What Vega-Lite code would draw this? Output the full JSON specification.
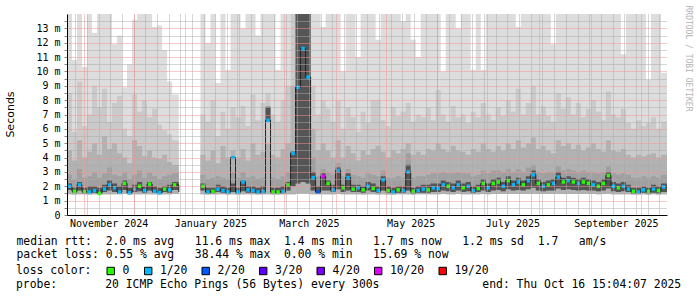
{
  "$schema": "https://vega.github.io/schema/vega-lite/v6.json",
  "width": 600,
  "height": 201,
  "autosize": {"type": "none"},
  "padding": {"left": 67, "top": 14, "right": 30, "bottom": 82},
  "background": "#ffffff",
  "config": {"view": {"stroke": null}, "font": "DejaVu Sans Mono"},
  "title": {"text": "probe:\u00a0\u00a0\u00a0\u00a0\u00a0\u00a0\u00a020 ICMP Echo Pings (56 Bytes) every 300s\u00a0\u00a0\u00a0\u00a0\u00a0\u00a0\u00a0\u00a0\u00a0\u00a0\u00a0\u00a0\u00a0\u00a0\u00a0end: Thu Oct 16 15:04:07 2025",
    "orient": "bottom", "anchor": "start", "frame": "group", "font": "DejaVu Sans Mono", "fontSize": 11.4, "fontWeight": "normal", "color": "#000000", "offset": 1.5, "dx": -51, "baseline": "top"},
  "data": {"values": [
    {"d":"2024-10-22","lo":1.45,"u1":14,"u2":8.5,"u3":4.5,"ld":1.75,"u4":2.8,"u5":2.2,"m":2.0,"l":"1/20"},
    {"d":"2024-10-25","lo":1.42,"u1":10.8,"u2":5.8,"u3":3.8,"ld":1.55,"u4":2.5,"u5":1.9,"m":1.65,"l":"0"},
    {"d":"2024-10-28","lo":1.45,"u1":14,"u2":9.3,"u3":5.2,"ld":1.7,"u4":3.2,"u5":2.3,"m":2.1,"l":"1/20"},
    {"d":"2024-10-31","lo":1.45,"u1":10.3,"u2":6.2,"u3":4.0,"ld":1.5,"u4":2.6,"u5":1.9,"m":1.63,"l":"0"},
    {"d":"2024-11-03","lo":1.43,"u1":14,"u2":7.0,"u3":4.4,"ld":1.5,"u4":2.7,"u5":2.0,"m":1.6,"l":"1/20"},
    {"d":"2024-11-06","lo":1.45,"u1":12.7,"u2":9.0,"u3":5.0,"ld":1.55,"u4":3.0,"u5":2.0,"m":1.7,"l":"1/20"},
    {"d":"2024-11-09","lo":1.42,"u1":14,"u2":7.5,"u3":4.2,"ld":1.5,"u4":2.6,"u5":1.9,"m":1.5,"l":"0"},
    {"d":"2024-11-12","lo":1.45,"u1":14,"u2":8.8,"u3":5.5,"ld":1.6,"u4":2.9,"u5":2.1,"m":1.8,"l":"1/20"},
    {"d":"2024-11-15","lo":1.45,"u1":14,"u2":6.5,"u3":4.6,"ld":1.7,"u4":3.3,"u5":2.4,"m":2.1,"l":"1/20"},
    {"d":"2024-11-18","lo":1.44,"u1":11.9,"u2":7.8,"u3":5.0,"ld":1.6,"u4":2.8,"u5":2.2,"m":1.9,"l":"1/20"},
    {"d":"2024-11-21","lo":1.45,"u1":12.5,"u2":8.3,"u3":4.3,"ld":1.5,"u4":2.7,"u5":2.0,"m":1.6,"l":"1/20"},
    {"d":"2024-11-24","lo":1.46,"u1":8.9,"u2":6.0,"u3":4.0,"ld":1.75,"u4":3.0,"u5":2.4,"m":2.2,"l":"0"},
    {"d":"2024-11-27","lo":1.43,"u1":10.5,"u2":5.5,"u3":3.6,"ld":1.5,"u4":2.5,"u5":1.9,"m":1.55,"l":"1/20"},
    {"d":"2024-11-30","lo":1.45,"u1":13.6,"u2":8.4,"u3":5.2,"ld":1.6,"u4":2.8,"u5":2.1,"m":1.8,"l":"1/20"},
    {"d":"2024-12-03","lo":1.45,"u1":14,"u2":7.2,"u3":4.8,"ld":1.65,"u4":3.1,"u5":2.3,"m":2.0,"l":"0"},
    {"d":"2024-12-06","lo":1.44,"u1":14,"u2":8.0,"u3":4.1,"ld":1.55,"u4":2.6,"u5":2.0,"m":1.7,"l":"1/20"},
    {"d":"2024-12-09","lo":1.45,"u1":14,"u2":6.8,"u3":4.5,"ld":1.7,"u4":3.0,"u5":2.3,"m":2.15,"l":"0"},
    {"d":"2024-12-12","lo":1.45,"u1":13.1,"u2":7.4,"u3":4.0,"ld":1.55,"u4":2.7,"u5":2.0,"m":1.65,"l":"1/20"},
    {"d":"2024-12-15","lo":1.43,"u1":13.2,"u2":6.3,"u3":3.9,"ld":1.5,"u4":2.5,"u5":1.9,"m":1.55,"l":"1/20"},
    {"d":"2024-12-18","lo":1.45,"u1":11.5,"u2":5.9,"u3":4.2,"ld":1.6,"u4":2.7,"u5":2.0,"m":1.8,"l":"0"},
    {"d":"2024-12-21","lo":1.45,"u1":9.3,"u2":5.6,"u3":3.7,"ld":1.55,"u4":2.8,"u5":2.1,"m":1.75,"l":"1/20"},
    {"d":"2024-12-24","lo":1.46,"u1":8.4,"u2":5.2,"u3":3.5,"ld":1.75,"u4":2.9,"u5":2.3,"m":2.1,"l":"0"},
    {"d":"2024-12-28","lo":1.46,"u1":10.6,"u2":5.2,"u3":3.5,"ld":1.6,"u4":2.6,"u5":2.0,"m":1.6,"l":null},
    {"d":"2025-01-01","lo":null,"u1":null,"u2":null,"u3":null,"ld":null,"u4":null,"u5":null,"m":null,"l":null},
    {"d":"2025-01-10","lo":1.45,"u1":14,"u2":7.0,"u3":4.2,"ld":1.7,"u4":2.8,"u5":2.2,"m":2.0,"l":"0"},
    {"d":"2025-01-13","lo":1.43,"u1":12.0,"u2":6.5,"u3":3.8,"ld":1.5,"u4":2.5,"u5":1.9,"m":1.6,"l":"1/20"},
    {"d":"2025-01-16","lo":1.44,"u1":14,"u2":8.0,"u3":4.5,"ld":1.5,"u4":2.6,"u5":1.9,"m":1.65,"l":"0"},
    {"d":"2025-01-19","lo":1.45,"u1":9.2,"u2":5.5,"u3":3.6,"ld":1.6,"u4":2.7,"u5":2.1,"m":1.8,"l":"1/20"},
    {"d":"2025-01-22","lo":1.44,"u1":14,"u2":7.2,"u3":4.8,"ld":1.55,"u4":2.6,"u5":2.0,"m":1.7,"l":"1/20"},
    {"d":"2025-01-25","lo":1.43,"u1":10.1,"u2":6.0,"u3":4.0,"ld":1.5,"u4":2.5,"u5":1.9,"m":1.6,"l":"1/20"},
    {"d":"2025-01-28","lo":1.45,"u1":14,"u2":7.5,"u3":4.5,"ld":1.6,"u4":3.0,"u5":2.2,"m":4.0,"l":"1/20"},
    {"d":"2025-01-31","lo":1.43,"u1":14,"u2":6.8,"u3":4.0,"ld":1.5,"u4":2.6,"u5":1.9,"m":1.6,"l":"1/20"},
    {"d":"2025-02-03","lo":1.45,"u1":13.0,"u2":7.6,"u3":4.6,"ld":1.65,"u4":3.0,"u5":2.4,"m":2.3,"l":"1/20"},
    {"d":"2025-02-06","lo":1.44,"u1":14,"u2":6.2,"u3":3.8,"ld":1.55,"u4":2.6,"u5":2.0,"m":1.75,"l":"1/20"},
    {"d":"2025-02-09","lo":1.44,"u1":14,"u2":8.4,"u3":5.0,"ld":1.55,"u4":2.7,"u5":2.0,"m":1.7,"l":"1/20"},
    {"d":"2025-02-12","lo":1.43,"u1":12.5,"u2":6.6,"u3":4.2,"ld":1.5,"u4":2.5,"u5":1.9,"m":1.6,"l":"1/20"},
    {"d":"2025-02-15","lo":1.44,"u1":14,"u2":7.8,"u3":4.4,"ld":1.5,"u4":2.6,"u5":2.0,"m":1.65,"l":"1/20"},
    {"d":"2025-02-18","lo":1.45,"u1":14,"u2":8.5,"u3":5.0,"ld":6.5,"u4":7.6,"u5":7.5,"m":6.6,"l":"1/20"},
    {"d":"2025-02-21","lo":1.43,"u1":14,"u2":7.0,"u3":4.2,"ld":1.5,"u4":2.6,"u5":1.9,"m":1.6,"l":"0"},
    {"d":"2025-02-24","lo":1.43,"u1":10.1,"u2":6.5,"u3":4.0,"ld":1.5,"u4":2.5,"u5":1.9,"m":1.6,"l":"0"},
    {"d":"2025-02-27","lo":1.44,"u1":14,"u2":8.0,"u3":4.6,"ld":1.5,"u4":2.7,"u5":2.0,"m":1.65,"l":"1/20"},
    {"d":"2025-03-02","lo":1.45,"u1":14,"u2":9.0,"u3":5.0,"ld":1.7,"u4":3.0,"u5":2.3,"m":2.1,"l":"0"},
    {"d":"2025-03-05","lo":1.45,"u1":14,"u2":14,"u3":9.0,"ld":2.0,"u4":4.5,"u5":4.4,"m":4.3,"l":"1/20"},
    {"d":"2025-03-08","lo":1.5,"u1":14,"u2":14,"u3":14,"ld":2.2,"u4":14,"u5":14,"m":8.9,"l":"1/20"},
    {"d":"2025-03-11","lo":1.5,"u1":14,"u2":14,"u3":14,"ld":2.3,"u4":14,"u5":14,"m":11.6,"l":"1/20"},
    {"d":"2025-03-14","lo":1.5,"u1":14,"u2":14,"u3":14,"ld":2.2,"u4":14,"u5":14,"m":9.6,"l":"1/20"},
    {"d":"2025-03-17","lo":1.45,"u1":14,"u2":9.0,"u3":6.0,"ld":1.7,"u4":4.0,"u5":3.0,"m":2.6,"l":"1/20"},
    {"d":"2025-03-20","lo":1.44,"u1":14,"u2":7.0,"u3":4.5,"ld":1.5,"u4":2.7,"u5":2.0,"m":1.6,"l":"2/20"},
    {"d":"2025-03-23","lo":1.45,"u1":13.1,"u2":8.0,"u3":5.0,"ld":1.7,"u4":3.2,"u5":2.9,"m":2.7,"l":"10/20"},
    {"d":"2025-03-26","lo":1.45,"u1":14,"u2":7.4,"u3":4.5,"ld":1.7,"u4":3.0,"u5":2.4,"m":2.2,"l":"0"},
    {"d":"2025-03-29","lo":1.44,"u1":14,"u2":6.5,"u3":4.0,"ld":1.6,"u4":2.8,"u5":2.1,"m":1.75,"l":"1/20"},
    {"d":"2025-04-01","lo":1.46,"u1":14,"u2":8.0,"u3":5.2,"ld":1.8,"u4":3.6,"u5":3.3,"m":3.1,"l":"1/20"},
    {"d":"2025-04-04","lo":1.44,"u1":10.0,"u2":6.0,"u3":4.0,"ld":1.6,"u4":2.7,"u5":2.1,"m":1.9,"l":"0"},
    {"d":"2025-04-07","lo":1.45,"u1":14,"u2":7.5,"u3":4.8,"ld":1.7,"u4":3.2,"u5":2.9,"m":2.6,"l":"1/20"},
    {"d":"2025-04-10","lo":1.44,"u1":14,"u2":6.8,"u3":4.3,"ld":1.6,"u4":2.8,"u5":2.1,"m":1.8,"l":"0"},
    {"d":"2025-04-13","lo":1.44,"u1":11.0,"u2":5.8,"u3":3.8,"ld":1.6,"u4":2.7,"u5":2.1,"m":1.9,"l":"1/20"},
    {"d":"2025-04-16","lo":1.43,"u1":14,"u2":7.2,"u3":4.5,"ld":1.55,"u4":2.6,"u5":2.0,"m":1.75,"l":"0"},
    {"d":"2025-04-19","lo":1.45,"u1":14,"u2":6.4,"u3":4.2,"ld":1.7,"u4":2.9,"u5":2.3,"m":2.0,"l":"1/20"},
    {"d":"2025-04-22","lo":1.44,"u1":14,"u2":8.0,"u3":4.6,"ld":1.6,"u4":2.8,"u5":2.2,"m":1.85,"l":"0"},
    {"d":"2025-04-25","lo":1.43,"u1":12.2,"u2":8.0,"u3":4.8,"ld":1.55,"u4":2.7,"u5":2.0,"m":1.7,"l":"1/20"},
    {"d":"2025-04-28","lo":1.45,"u1":14,"u2":6.6,"u3":4.4,"ld":1.7,"u4":3.1,"u5":2.7,"m":2.45,"l":"1/20"},
    {"d":"2025-05-01","lo":1.43,"u1":14,"u2":6.2,"u3":4.0,"ld":1.55,"u4":2.6,"u5":2.0,"m":1.7,"l":"0"},
    {"d":"2025-05-04","lo":1.43,"u1":14,"u2":7.5,"u3":4.5,"ld":1.5,"u4":2.6,"u5":1.9,"m":1.6,"l":"1/20"},
    {"d":"2025-05-07","lo":1.44,"u1":14,"u2":6.9,"u3":4.3,"ld":1.55,"u4":2.7,"u5":2.0,"m":1.75,"l":"0"},
    {"d":"2025-05-10","lo":1.44,"u1":13.5,"u2":7.2,"u3":4.6,"ld":1.55,"u4":2.6,"u5":2.0,"m":1.7,"l":"1/20"},
    {"d":"2025-05-13","lo":1.45,"u1":14,"u2":7.8,"u3":5.0,"ld":1.7,"u4":4.3,"u5":3.5,"m":3.0,"l":"1/20"},
    {"d":"2025-05-16","lo":1.43,"u1":12.2,"u2":6.5,"u3":4.2,"ld":1.5,"u4":2.6,"u5":1.9,"m":1.65,"l":"0"},
    {"d":"2025-05-19","lo":1.44,"u1":11.0,"u2":7.0,"u3":4.4,"ld":1.55,"u4":2.7,"u5":2.0,"m":1.7,"l":"1/20"},
    {"d":"2025-05-22","lo":1.44,"u1":14,"u2":6.8,"u3":4.2,"ld":1.55,"u4":2.7,"u5":2.1,"m":1.8,"l":"1/20"},
    {"d":"2025-05-25","lo":1.44,"u1":14,"u2":7.5,"u3":4.6,"ld":1.55,"u4":2.8,"u5":2.1,"m":1.75,"l":"0"},
    {"d":"2025-05-28","lo":1.45,"u1":14,"u2":6.6,"u3":4.5,"ld":1.6,"u4":2.9,"u5":2.2,"m":1.9,"l":"1/20"},
    {"d":"2025-05-31","lo":1.45,"u1":14,"u2":8.7,"u3":5.0,"ld":1.6,"u4":2.9,"u5":2.2,"m":1.85,"l":"1/20"},
    {"d":"2025-06-03","lo":1.46,"u1":10.0,"u2":7.0,"u3":4.6,"ld":1.7,"u4":3.0,"u5":2.4,"m":2.1,"l":"1/20"},
    {"d":"2025-06-06","lo":1.45,"u1":14,"u2":6.5,"u3":4.4,"ld":1.65,"u4":2.9,"u5":2.3,"m":2.0,"l":"0"},
    {"d":"2025-06-09","lo":1.45,"u1":14,"u2":7.6,"u3":4.8,"ld":1.6,"u4":2.9,"u5":2.2,"m":1.9,"l":"1/20"},
    {"d":"2025-06-12","lo":1.46,"u1":13.0,"u2":6.8,"u3":4.5,"ld":1.7,"u4":3.0,"u5":2.4,"m":2.1,"l":"1/20"},
    {"d":"2025-06-15","lo":1.45,"u1":14,"u2":7.0,"u3":4.4,"ld":1.6,"u4":2.9,"u5":2.2,"m":1.9,"l":"0"},
    {"d":"2025-06-18","lo":1.45,"u1":14,"u2":6.4,"u3":4.2,"ld":1.65,"u4":2.9,"u5":2.3,"m":2.0,"l":"1/20"},
    {"d":"2025-06-21","lo":1.44,"u1":10.1,"u2":7.2,"u3":4.6,"ld":1.55,"u4":2.7,"u5":2.0,"m":1.7,"l":"1/20"},
    {"d":"2025-06-24","lo":1.45,"u1":14,"u2":6.8,"u3":4.4,"ld":1.6,"u4":2.8,"u5":2.1,"m":1.85,"l":"0"},
    {"d":"2025-06-27","lo":1.46,"u1":10.1,"u2":7.8,"u3":5.0,"ld":1.7,"u4":3.1,"u5":2.5,"m":2.2,"l":"0"},
    {"d":"2025-06-30","lo":1.45,"u1":14,"u2":7.0,"u3":4.6,"ld":1.6,"u4":2.9,"u5":2.2,"m":1.9,"l":"1/20"},
    {"d":"2025-07-03","lo":1.46,"u1":14,"u2":6.6,"u3":4.4,"ld":1.7,"u4":3.1,"u5":2.5,"m":2.2,"l":"0"},
    {"d":"2025-07-06","lo":1.47,"u1":14,"u2":7.5,"u3":4.8,"ld":1.75,"u4":3.1,"u5":2.6,"m":2.3,"l":"0"},
    {"d":"2025-07-09","lo":1.46,"u1":14,"u2":6.9,"u3":4.5,"ld":1.65,"u4":3.0,"u5":2.3,"m":2.0,"l":"1/20"},
    {"d":"2025-07-12","lo":1.47,"u1":14,"u2":8.0,"u3":5.0,"ld":1.8,"u4":3.2,"u5":2.7,"m":2.4,"l":"0"},
    {"d":"2025-07-15","lo":1.46,"u1":14,"u2":7.2,"u3":4.6,"ld":1.7,"u4":3.0,"u5":2.4,"m":2.1,"l":"1/20"},
    {"d":"2025-07-18","lo":1.47,"u1":13.1,"u2":8.8,"u3":5.2,"ld":1.75,"u4":3.2,"u5":2.6,"m":2.3,"l":"1/20"},
    {"d":"2025-07-21","lo":1.46,"u1":14,"u2":7.0,"u3":4.7,"ld":1.7,"u4":3.0,"u5":2.4,"m":2.1,"l":"0"},
    {"d":"2025-07-24","lo":1.47,"u1":14,"u2":7.8,"u3":5.0,"ld":1.8,"u4":3.3,"u5":2.7,"m":2.4,"l":"1/20"},
    {"d":"2025-07-27","lo":1.48,"u1":14,"u2":9.0,"u3":5.4,"ld":1.9,"u4":3.5,"u5":3.1,"m":2.8,"l":"1/20"},
    {"d":"2025-07-30","lo":1.46,"u1":14,"u2":7.0,"u3":4.6,"ld":1.7,"u4":3.0,"u5":2.5,"m":2.2,"l":"0"},
    {"d":"2025-08-02","lo":1.46,"u1":14,"u2":7.6,"u3":4.8,"ld":1.65,"u4":2.9,"u5":2.3,"m":2.0,"l":"1/20"},
    {"d":"2025-08-05","lo":1.46,"u1":14,"u2":6.9,"u3":4.5,"ld":1.7,"u4":3.0,"u5":2.4,"m":2.1,"l":"0"},
    {"d":"2025-08-08","lo":1.46,"u1":11.9,"u2":6.5,"u3":4.3,"ld":1.7,"u4":3.0,"u5":2.5,"m":2.2,"l":"1/20"},
    {"d":"2025-08-11","lo":1.48,"u1":14,"u2":8.5,"u3":5.2,"ld":1.85,"u4":3.4,"u5":3.0,"m":2.65,"l":"1/20"},
    {"d":"2025-08-14","lo":1.47,"u1":14,"u2":7.4,"u3":4.8,"ld":1.75,"u4":3.1,"u5":2.6,"m":2.3,"l":"0"},
    {"d":"2025-08-17","lo":1.47,"u1":14,"u2":8.2,"u3":5.0,"ld":1.8,"u4":3.2,"u5":2.7,"m":2.4,"l":"1/20"},
    {"d":"2025-08-20","lo":1.47,"u1":14,"u2":7.0,"u3":4.6,"ld":1.75,"u4":3.1,"u5":2.6,"m":2.3,"l":"0"},
    {"d":"2025-08-23","lo":1.46,"u1":14,"u2":7.8,"u3":4.9,"ld":1.7,"u4":3.0,"u5":2.5,"m":2.2,"l":"1/20"},
    {"d":"2025-08-26","lo":1.47,"u1":14,"u2":6.8,"u3":4.5,"ld":1.75,"u4":3.1,"u5":2.6,"m":2.3,"l":"0"},
    {"d":"2025-08-29","lo":1.46,"u1":14,"u2":7.4,"u3":4.7,"ld":1.7,"u4":3.0,"u5":2.5,"m":2.2,"l":"0"},
    {"d":"2025-09-01","lo":1.46,"u1":14,"u2":8.0,"u3":5.0,"ld":1.7,"u4":3.0,"u5":2.4,"m":2.1,"l":"1/20"},
    {"d":"2025-09-04","lo":1.45,"u1":14,"u2":7.2,"u3":4.6,"ld":1.65,"u4":2.9,"u5":2.3,"m":2.0,"l":"0"},
    {"d":"2025-09-07","lo":1.46,"u1":14,"u2":6.6,"u3":4.4,"ld":1.7,"u4":3.0,"u5":2.5,"m":2.2,"l":"0"},
    {"d":"2025-09-10","lo":1.48,"u1":14,"u2":8.6,"u3":5.2,"ld":1.85,"u4":3.4,"u5":3.0,"m":2.75,"l":"0"},
    {"d":"2025-09-13","lo":1.45,"u1":14,"u2":7.0,"u3":4.5,"ld":1.65,"u4":2.9,"u5":2.3,"m":2.0,"l":"1/20"},
    {"d":"2025-09-16","lo":1.45,"u1":14,"u2":6.8,"u3":4.4,"ld":1.6,"u4":2.8,"u5":2.2,"m":1.9,"l":"0"},
    {"d":"2025-09-19","lo":1.45,"u1":11.2,"u2":7.4,"u3":4.6,"ld":1.65,"u4":2.9,"u5":2.3,"m":2.0,"l":"1/20"},
    {"d":"2025-09-22","lo":1.44,"u1":14,"u2":6.4,"u3":4.2,"ld":1.6,"u4":2.8,"u5":2.1,"m":1.8,"l":"1/20"},
    {"d":"2025-09-25","lo":1.43,"u1":14,"u2":6.0,"u3":4.0,"ld":1.5,"u4":2.6,"u5":1.9,"m":1.65,"l":"0"},
    {"d":"2025-09-28","lo":1.43,"u1":14,"u2":6.6,"u3":4.2,"ld":1.5,"u4":2.6,"u5":1.9,"m":1.6,"l":"1/20"},
    {"d":"2025-10-01","lo":1.44,"u1":14,"u2":6.2,"u3":4.1,"ld":1.55,"u4":2.7,"u5":2.0,"m":1.75,"l":"1/20"},
    {"d":"2025-10-04","lo":1.43,"u1":9.4,"u2":6.4,"u3":4.2,"ld":1.5,"u4":2.6,"u5":1.9,"m":1.65,"l":"0"},
    {"d":"2025-10-07","lo":1.44,"u1":14,"u2":6.8,"u3":4.3,"ld":1.55,"u4":2.7,"u5":2.1,"m":1.8,"l":"1/20"},
    {"d":"2025-10-10","lo":1.43,"u1":14,"u2":6.0,"u3":4.0,"ld":1.5,"u4":2.6,"u5":2.0,"m":1.7,"l":"0"},
    {"d":"2025-10-13","lo":1.45,"u1":9.9,"u2":6.5,"u3":4.2,"ld":1.6,"u4":2.8,"u5":2.2,"m":1.95,"l":"1/20"},
    {"d":"2025-10-16T15:04:00Z","lo":1.45,"u1":9.9,"u2":6.5,"u3":4.2,"ld":1.6,"u4":2.8,"u5":2.2,"m":1.95,"l":null}
  ]},
  "resolve": {"axis": {"x": "independent", "y": "independent"}},
  "encoding": {
    "x": {"field": "d", "type": "temporal", "scale": {"type": "utc", "domain": [{"year": 2024, "month": 10, "date": 22, "utc": true}, {"year": 2025, "month": 10, "date": 16, "hours": 15, "minutes": 4, "utc": true}]}, "axis": null}
  },
  "layer": [
    {
      "mark": {"type": "area", "interpolate": "step-after", "color": "#dddddd", "invalid": "break-paths-filter-domains", "clip": true},
      "encoding": {
        "x": {"field": "d", "type": "temporal", "scale": {"type": "utc", "domain": [{"year": 2024, "month": 10, "date": 22, "utc": true}, {"year": 2025, "month": 10, "date": 16, "hours": 15, "minutes": 4, "utc": true}]},
          "axis": {"orient": "bottom",
            "values": [{"year":2024,"month":11,"date":1,"utc":true},{"year":2024,"month":12,"date":1,"utc":true},{"year":2025,"month":1,"date":1,"utc":true},{"year":2025,"month":2,"date":1,"utc":true},{"year":2025,"month":3,"date":1,"utc":true},{"year":2025,"month":4,"date":1,"utc":true},{"year":2025,"month":5,"date":1,"utc":true},{"year":2025,"month":6,"date":1,"utc":true},{"year":2025,"month":7,"date":1,"utc":true},{"year":2025,"month":8,"date":1,"utc":true},{"year":2025,"month":9,"date":1,"utc":true},{"year":2025,"month":10,"date":1,"utc":true}],
            "labelExpr": "utcmonth(datum.value) % 2 === 0 ? utcFormat(datum.value, '%B %Y') : ''",
            "labelOffset": 25, "labelFont": "DejaVu Sans Mono", "labelFontSize": 10, "labelColor": "#000000", "labelPadding": 3, "labelFlush": false, "labelOverlap": false,
            "ticks": false, "tickSize": 0, "grid": true, "gridColor": "#f09595", "gridDash": [1, 1], "gridWidth": 1,
            "domain": true, "domainColor": "#000000", "domainWidth": 1, "zindex": 2,
            "title": ["median rtt:\u00a0\u00a02.0 ms avg\u00a0\u00a0\u00a011.6 ms max\u00a0\u00a01.4 ms min\u00a0\u00a0\u00a01.7 ms now\u00a0\u00a0\u00a01.2 ms sd\u00a0\u00a01.7\u00a0\u00a0\u00a0am/s",
                      "packet loss: 0.55 % avg\u00a0\u00a0\u00a038.44 % max\u00a0\u00a00.00 % min\u00a0\u00a0\u00a015.69 % now"],
            "titleFont": "DejaVu Sans Mono", "titleFontSize": 11.4, "titleFontWeight": "normal", "titleColor": "#000000",
            "titleX": -51, "titleY": 20, "titleAlign": "left", "titleAnchor": "start", "titleBaseline": "top", "titleLineHeight": 13.9}},
        "y": {"field": "lo", "type": "quantitative", "scale": {"domain": [0, 14], "nice": false, "zero": true},
          "axis": {"orient": "left", "title": "Seconds",
            "values": [0,0.5,1,1.5,2,2.5,3,3.5,4,4.5,5,5.5,6,6.5,7,7.5,8,8.5,9,9.5,10,10.5,11,11.5,12,12.5,13,13.5],
            "labelExpr": "datum.value % 1 ? '' : (datum.value === 0 ? '0\u00a0\u00a0' : datum.value + ' m')",
            "grid": true, "gridColor": {"condition": {"test": "datum.value % 1 === 0", "value": "#f09595"}, "value": "#aaaaaa"}, "gridDash": [1, 1], "gridWidth": 1,
            "domain": true, "domainColor": "#000000", "ticks": true, "tickSize": 3, "tickColor": "#888888",
            "labelFont": "DejaVu Sans Mono", "labelFontSize": 10, "labelColor": "#000000", "labelPadding": 4, "labelBaseline": "middle", "labelFlush": false, "labelOverlap": false,
            "titleFont": "DejaVu Sans", "titleFontSize": 11, "titleFontWeight": "normal", "titleColor": "#000000", "titleAngle": -90, "titleX": -57, "titleY": 100, "titleAlign": "center", "titleBaseline": "middle", "zindex": 2}},
        "y2": {"field": "u1"}
      }
    },
    {
      "mark": {"type": "area", "interpolate": "step-after", "color": "#cacaca", "invalid": "break-paths-filter-domains", "clip": true},
      "encoding": {
        "y": {"field": "lo", "type": "quantitative", "scale": {"domain": [0, 14], "nice": false, "zero": true},
          "axis": {"orient": "right", "title": "RRDTOOL / TOBI OETIKER", "labels": false, "ticks": false, "domain": false, "grid": false,
            "titleFont": "DejaVu Sans Mono", "titleFontSize": 8, "titleFontWeight": "normal", "titleColor": "#b4b4b4",
            "titleAngle": 90, "titleX": 20, "titleY": -9, "titleAlign": "left", "titleBaseline": "middle"}},
        "y2": {"field": "u2"}
      }
    },
    {
      "mark": {"type": "area", "interpolate": "step-after", "color": "#b2b2b2", "invalid": "break-paths-filter-domains", "clip": true},
      "encoding": {
        "x": {"field": "d", "type": "temporal", "scale": {"type": "utc", "domain": [{"year": 2024, "month": 10, "date": 22, "utc": true}, {"year": 2025, "month": 10, "date": 16, "hours": 15, "minutes": 4, "utc": true}]},
          "axis": {"orient": "top", "tickCount": 52, "grid": true, "gridColor": "#aaaaaa", "gridDash": [1, 1], "gridWidth": 1, "gridOpacity": 1, "labels": false, "ticks": false, "domain": false, "title": "", "zindex": 1}},
        "y": {"field": "lo", "type": "quantitative", "scale": {"domain": [0, 14], "nice": false, "zero": true}, "axis": null},
        "y2": {"field": "u3"}
      }
    },
    {
      "mark": {"type": "area", "interpolate": "step-after", "color": "#a0a0a0", "invalid": "break-paths-filter-domains", "clip": true},
      "encoding": {
        "y": {"field": "ld", "type": "quantitative", "scale": {"domain": [0, 14], "nice": false, "zero": true}, "axis": null},
        "y2": {"field": "u4"}
      }
    },
    {
      "mark": {"type": "area", "interpolate": "step-after", "color": "#555555", "invalid": "break-paths-filter-domains", "clip": true},
      "encoding": {
        "y": {"field": "ld", "type": "quantitative", "scale": {"domain": [0, 14], "nice": false, "zero": true}, "axis": null},
        "y2": {"field": "u5"}
      }
    },
    {
      "mark": {"type": "line", "interpolate": "step-after", "color": "#222222", "strokeWidth": 1, "invalid": "break-paths-filter-domains", "clip": true},
      "encoding": {
        "y": {"field": "m", "type": "quantitative", "scale": {"domain": [0, 14], "nice": false, "zero": true}, "axis": null}
      }
    },
    {
      "transform": [{"filter": "datum.l != null"}],
      "mark": {"type": "point", "shape": "square", "filled": true, "size": 12, "xOffset": 2.5, "opacity": 1, "clip": true},
      "encoding": {
        "y": {"field": "m", "type": "quantitative", "scale": {"domain": [0, 14], "nice": false, "zero": true}, "axis": null},
        "color": {"field": "l", "type": "nominal",
          "scale": {"domain": ["0", "1/20", "2/20", "3/20", "4/20", "10/20", "19/20"], "range": ["#26ff00", "#00b8ff", "#0059ff", "#5e00ff", "#7e00ff", "#dd00ff", "#ff0000"]},
          "legend": {"orient": "none", "legendX": -51, "legendY": 251, "direction": "horizontal",
            "title": "loss color:", "titleOrient": "left", "titleFont": "DejaVu Sans Mono", "titleFontSize": 11.4, "titleFontWeight": "normal", "titleColor": "#000000", "titlePadding": 13, "titleBaseline": "middle", "titleAnchor": "middle",
            "symbolType": "square", "symbolSize": 55, "symbolStrokeColor": "#000000", "symbolStrokeWidth": 1, "symbolOpacity": 1,
            "labelFont": "DejaVu Sans Mono", "labelFontSize": 11.4, "labelColor": "#000000", "labelOffset": 6, "columnPadding": 11.5, "padding": 0}}
      }
    }
  ]
}
